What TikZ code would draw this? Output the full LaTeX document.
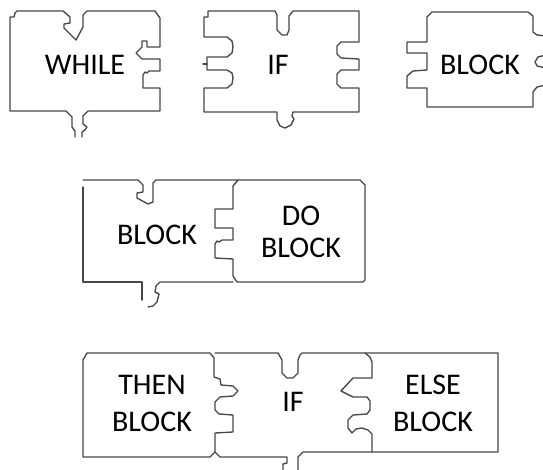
\documentclass[tikz,border=0pt]{standalone}
\usepackage{fontspec}
\setmainfont{Carlito}
\begin{document}
\begin{tikzpicture}[x=1pt,y=-1pt,
  pz/.style={draw=black!72, line width=1.35pt, line join=round, line cap=round},
  lbl/.style={font=\fontsize{30}{35}\selectfont, inner sep=0pt, align=center, text=black},
  lblA/.style={lbl, font=\fontsize{30}{32}\selectfont},
  lblB/.style={lbl, font=\fontsize{30}{37}\selectfont}]
\useasboundingbox (0,0) rectangle (543,470);
\begin{scope}
\clip (0,0) rectangle (543,470);
% ---------- WHILE ----------
\draw[pz] (75,137) -- (75,131) -- (72,127) -- (72,117) -- (66,111) -- (10,111) -- (10,17) -- (14,17) -- (15,13) -- (17,11)
  -- (63,11) -- (70,17) -- (70,23) -- (64,24) -- (64,28) -- (76,40) -- (83,27) -- (83,15) -- (87,11)
  -- (155,11) -- (160,18) -- (160,47) -- (147,47) -- (147,41) -- (142,41) -- (142,47) -- (136,53) -- (142,59)
  -- (160,59) -- (160,71) -- (149,71) -- (147,73) -- (145,72) -- (143,75) -- (143,88) -- (160,88)
  -- (160,111) -- (88,111) -- (83,116) -- (83,124) -- (87,127) -- (85,130) -- (82,132) -- (82,137);
% ---------- IF (top) ----------
\draw[pz] (204,37) -- (204,17) -- (208,17) -- (208,11) -- (275,11) -- (277,15) -- (277,30) -- (282,35) -- (287,35)
  -- (289,30) -- (289,16) -- (293,11) -- (359,11) -- (359,42) -- (341,42) -- (337,46) -- (337,54) -- (341,58)
  -- (359,59) -- (359,70) -- (341,70) -- (337,74) -- (337,84) -- (341,88) -- (359,88) -- (359,112)
  -- (293,112) -- (292,116) -- (294,119) -- (291,125) -- (285,128) -- (280,126) -- (277,120) -- (277,112)
  -- (204,112) -- (204,88) -- (227,88) -- (232,84) -- (233,78) -- (232,73) -- (227,70) -- (207,70)
  -- (207,57) -- (227,57) -- (232,53) -- (233,47) -- (232,41) -- (227,37) -- cycle;
\draw[pz] (203,64) -- (207,64);
% ---------- BLOCK (top right) ----------
\draw[pz] (546,36) -- (537,35) -- (533,32) -- (533,16) -- (528,12) -- (432,12) -- (427,17) -- (427,42) -- (407,42)
  -- (407,53) -- (427,53) -- (427,70) -- (413,71) -- (407,76) -- (407,88) -- (427,88) -- (427,107)
  -- (533,107) -- (533,92) -- (537,87) -- (546,85);
\draw[pz] (546,55) -- (538,57) -- (535,62) -- (537,66) -- (546,68);
% ---------- BLOCK + DO BLOCK ----------
\draw[pz] (83,180) -- (138,180) -- (143,185) -- (143,192) -- (137,193) -- (137,198) -- (148,204) -- (153,202)
  -- (153,183) -- (156,180) -- (360,180) -- (365,185) -- (365,280) -- (363,282) -- (237,282) -- (233,276)
  -- (233,259) -- (215,258) -- (215,244) -- (217,241) -- (219,242) -- (222,240) -- (233,240) -- (233,228)
  -- (215,228) -- (215,209) -- (233,209) -- (233,186) -- (238,180);
\draw[pz] (83,187) -- (83,282) -- (142,282) -- (142,300);
\draw[pz] (233,282) -- (160,282) -- (156,286) -- (155,292) -- (159,294) -- (157,302) -- (153,306) -- (148,307);
% ---------- THEN BLOCK / IF / ELSE BLOCK ----------
\draw[pz] (83,360) -- (87,353) -- (210,353) -- (214,358) -- (214,377) -- (220,379) -- (221,385) -- (233,386)
  -- (238,391) -- (233,396) -- (220,397) -- (215,402) -- (215,410) -- (219,414) -- (233,415) -- (233,432)
  -- (215,433) -- (215,452) -- (210,457) -- (83,457) -- cycle;
\draw[pz] (215,353) -- (278,353) -- (282,360) -- (282,373) -- (287,378) -- (293,378) -- (298,373) -- (298,360)
  -- (300,355) -- (302,353) -- (498,353) -- (498,452) -- (303,452) -- (298,457) -- (298,472);
\draw[pz] (365,353) -- (370,357) -- (372,362) -- (372,378) -- (353,378) -- (341,391) -- (353,397) -- (367,397)
  -- (370,401) -- (370,410) -- (367,414) -- (353,415) -- (348,420) -- (348,428) -- (352,433) -- (356,429)
  -- (362,428) -- (368,430) -- (372,434) -- (372,452);
\draw[pz] (215,452) -- (220,457) -- (287,457) -- (287,463) -- (283,464) -- (283,472);
\end{scope}
% ---------- labels ----------
\node[lbl] (while) at (85,65) {WHILE};
\node[lbl] (ifA) at (278,65) {IF};
\node[lbl] (blockA) at (480,65) {BLOCK};
\node[lbl] (blockB) at (157,235) {BLOCK};
\node[lblA] (doblock) at (301,232) {DO\\BLOCK};
\node[lblB] (thenblock) at (152,403) {THEN\\BLOCK};
\node[lbl] (ifB) at (293,402) {IF};
\node[lblB] (elseblock) at (433,403) {ELSE\\BLOCK};
\end{tikzpicture}
\end{document}
